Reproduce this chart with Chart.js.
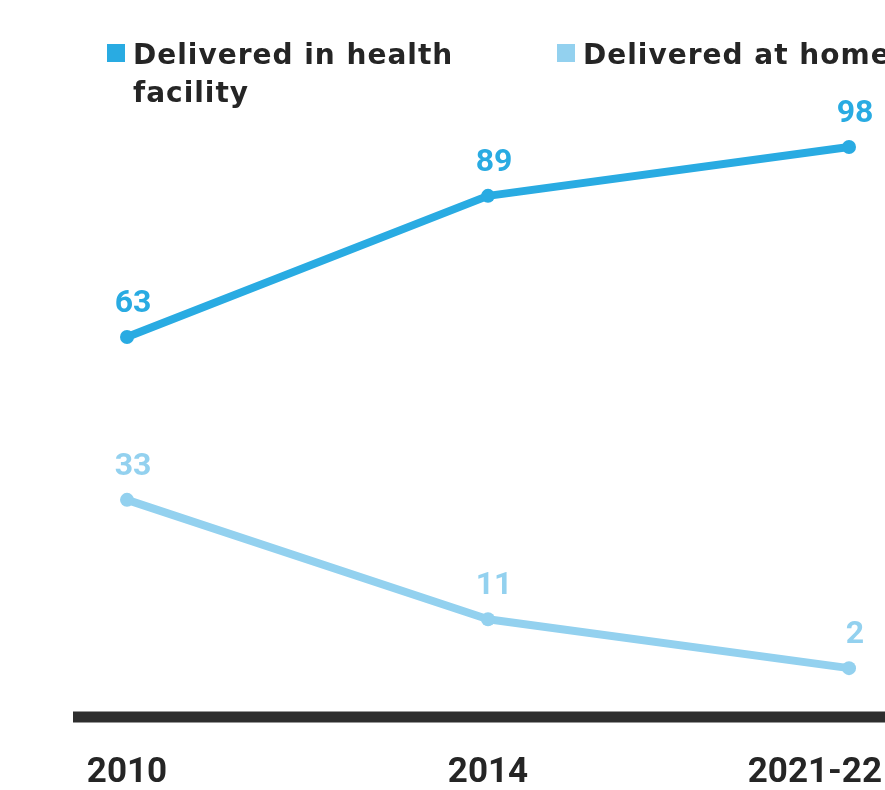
<!DOCTYPE html>
<html lang="en">
<head>
<meta charset="UTF-8">
<title>Place of delivery</title>
<script src="https://cdn.jsdelivr.net/npm/chart.js@4/dist/chart.umd.min.js"></script>
<style>
  body {
    margin: 0;
    background-color: #fff;
    overflow: hidden;
  }
  canvas {
    display: block;
  }
</style>
</head>
<body>

<canvas id="chartDelivery" width="885" height="790"></canvas>

<script>
  // survey rounds and share of births (%)
  const years = ['2010', '2014', '2021-22'];
  const facility = [63, 89, 98];
  const home = [33, 11, 2];
  const seriesNames = ['Delivered in health\nfacility', 'Delivered at home'];

  const darkBlue = '#29abe2';
  const lightBlue = '#93d1ef';
  const ink = '#252525';

  // thick baseline, year labels, value labels and legend are drawn by hand
  const decorations = {
    id: 'decorations',
    beforeDatasetsDraw(chart) {
      const ctx = chart.ctx;
      const area = chart.chartArea;
      ctx.save();
      ctx.strokeStyle = '#2e2e2e';
      ctx.lineWidth = 11;
      ctx.beginPath();
      ctx.moveTo(area.left - 54, area.bottom);
      ctx.lineTo(chart.width, area.bottom);
      ctx.stroke();
      ctx.restore();
    },
    afterDatasetsDraw(chart) {
      const ctx = chart.ctx;
      const area = chart.chartArea;
      const xScale = chart.scales.x;
      ctx.save();

      // year labels under the baseline
      ctx.font = 'bold 35px Roboto';
      ctx.fillStyle = ink;
      ctx.textBaseline = 'alphabetic';
      ctx.textAlign = 'center';
      years.forEach((y, i) => {
        const w = ctx.measureText(y).width;
        let x = xScale.getPixelForValue(i);
        x = Math.min(x, chart.width - 3 - w / 2);
        ctx.fillText(y, x, area.bottom + 65);
      });

      // value labels above each point
      ctx.font = 'bold 32px Roboto';
      chart.data.datasets.forEach((ds, di) => {
        const meta = chart.getDatasetMeta(di);
        ctx.fillStyle = ds.borderColor;
        meta.data.forEach((pt, i) => {
          ctx.fillText(String(ds.data[i]), pt.x + 6, pt.y - 25);
        });
      });

      // legend
      ctx.font = 'bold 28px "DejaVu Sans"';
      ctx.letterSpacing = '1px';
      ctx.textAlign = 'left';
      const legendX = [107, 557];
      chart.data.datasets.forEach((ds, di) => {
        const x0 = legendX[di];
        ctx.fillStyle = ds.borderColor;
        ctx.fillRect(x0, 44, 18, 18);
        ctx.fillStyle = ink;
        ds.label.split('\n').forEach((line, li) => {
          ctx.fillText(line, x0 + 26, 64 + li * 38);
        });
      });
      ctx.restore();
    }
  };

  new Chart('chartDelivery', {
    type: 'line',
    data: {
      labels: years,
      datasets: [{
        label: seriesNames[0],
        data: facility,
        borderColor: darkBlue,
        backgroundColor: darkBlue,
        borderWidth: 8,
        pointRadius: 7,
        pointBorderWidth: 0,
        fill: false,
        clip: false
      }, {
        label: seriesNames[1],
        data: home,
        borderColor: lightBlue,
        backgroundColor: lightBlue,
        borderWidth: 8,
        pointRadius: 7,
        pointBorderWidth: 0,
        fill: false,
        clip: false
      }]
    },
    options: {
      responsive: false,
      animation: false,
      devicePixelRatio: 1,
      borderJoinStyle: 'round',
      layout: {
        padding: { left: 127, right: 36, top: 109, bottom: 73 }
      },
      scales: {
        x: { display: false, offset: false },
        y: { display: false, min: -7, max: 105 }
      },
      plugins: {
        legend: { display: false },
        tooltip: { enabled: false }
      }
    },
    plugins: [decorations]
  });
</script>

</body>
</html>
